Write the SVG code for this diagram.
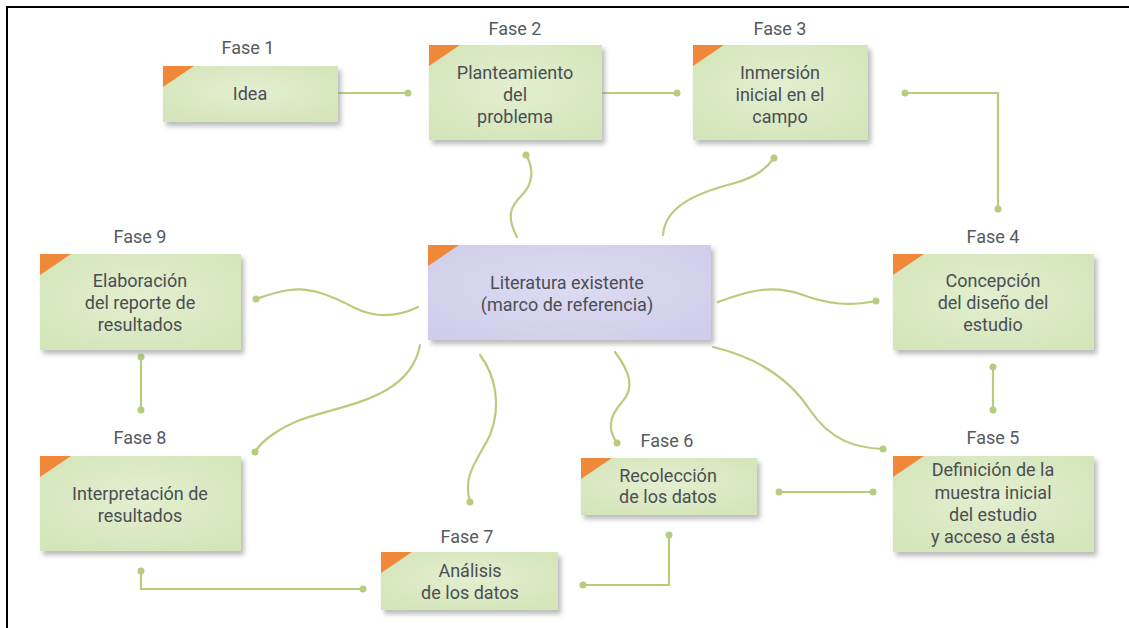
<svg xmlns="http://www.w3.org/2000/svg" width="1129" height="628" viewBox="0 0 1129 628">
<defs>
<radialGradient id="gGreen" cx="50%" cy="45%" r="65%">
<stop offset="0" stop-color="#e3efd0"/>
<stop offset="1" stop-color="#d3e5b9"/>
</radialGradient>
<radialGradient id="gLav" cx="50%" cy="45%" r="65%">
<stop offset="0" stop-color="#dddbf2"/>
<stop offset="1" stop-color="#d0cdea"/>
</radialGradient>
<filter id="sh" x="-10%" y="-10%" width="125%" height="135%">
<feDropShadow dx="3" dy="4" stdDeviation="2.5" flood-color="#7f8080" flood-opacity="0.55"/>
</filter>
</defs>
<style>
.box{fill:url(#gGreen);filter:url(#sh)}
.lav{fill:url(#gLav);filter:url(#sh)}
.tri{fill:#f0883a}
.t{font-family:Roboto,"Liberation Sans",sans-serif;font-size:18px;fill:#4a4e54;text-anchor:middle}
.lbl{font-family:Roboto,"Liberation Sans",sans-serif;font-size:18px;fill:#555a60;text-anchor:middle}
.c{fill:none;stroke:#b7cc7c;stroke-width:2.2;stroke-linecap:round}
.d{fill:#b7cc7c}
</style>
<rect x="0" y="0" width="1129" height="628" fill="#ffffff"/>
<path d="M7,628 V7 H1129" fill="none" stroke="#000" stroke-width="2"/>

<g id="connectors">
<path class="c" d="M338,93 H408"/>
<circle class="d" cx="408" cy="93" r="3.5"/>
<path class="c" d="M602,93 H677"/>
<circle class="d" cx="677" cy="93" r="3.5"/>
<path class="c" d="M905,93 H998 V209"/>
<circle class="d" cx="905" cy="93" r="3.5"/>
<circle class="d" cx="998" cy="209" r="3.5"/>
<path class="c" d="M993,367 V410"/>
<circle class="d" cx="993" cy="367" r="3.5"/>
<circle class="d" cx="993" cy="410" r="3.5"/>
<path class="c" d="M779,492 H873"/>
<circle class="d" cx="779" cy="492" r="3.5"/>
<circle class="d" cx="873" cy="492" r="3.5"/>
<path class="c" d="M669,535 V585 H583"/>
<circle class="d" cx="669" cy="535" r="3.5"/>
<circle class="d" cx="583" cy="585" r="3.5"/>
<path class="c" d="M363,589 H141 V571"/>
<circle class="d" cx="363" cy="589" r="3.5"/>
<circle class="d" cx="141" cy="571" r="3.5"/>
<path class="c" d="M141,357 V410"/>
<circle class="d" cx="141" cy="357" r="3.5"/>
<circle class="d" cx="141" cy="410" r="3.5"/>

<path class="c" d="M517,237 C505,215 512,205 522,195 C532,185 535,170 526,155"/>
<circle class="d" cx="526" cy="155" r="3.5"/>
<path class="c" d="M663,235 C665,205 700,192 735,183 C755,177 765,170 774,158"/>
<circle class="d" cx="774" cy="158" r="3.5"/>
<path class="c" d="M718,302 C745,292 770,284 800,294 C830,305 850,306 876,301"/>
<circle class="d" cx="876" cy="301" r="3.5"/>
<path class="c" d="M713,347 C760,358 790,380 810,410 C830,440 855,448 883,449"/>
<circle class="d" cx="883" cy="449" r="3.5"/>
<path class="c" d="M615,352 C630,372 635,388 622,402 C608,418 608,430 617,443"/>
<circle class="d" cx="617" cy="443" r="3.5"/>
<path class="c" d="M480,355 C495,375 502,405 490,435 C478,460 462,475 470,502"/>
<circle class="d" cx="470" cy="502" r="3.5"/>
<path class="c" d="M420,345 C410,400 340,405 300,420 C280,428 262,440 255,452"/>
<circle class="d" cx="255" cy="452" r="3.5"/>
<path class="c" d="M418,307 C395,318 375,318 355,308 C330,295 310,287 290,290 C275,292 265,296 256,299"/>
<circle class="d" cx="256" cy="299" r="3.5"/>
</g>

<g id="fase1">
<text class="lbl" x="248" y="54">Fase 1</text>
<rect class="box" x="163" y="66" width="175" height="56"/>
<path class="tri" d="M163,66 H194 L163,87 Z"/>
<text class="t" x="250" y="100">Idea</text>
</g>

<g id="fase2">
<text class="lbl" x="515" y="35">Fase 2</text>
<rect class="box" x="429" y="45" width="173" height="95"/>
<path class="tri" d="M429,45 H460 L429,66 Z"/>
<text class="t" x="515" y="79">Planteamiento</text>
<text class="t" x="515" y="101">del</text>
<text class="t" x="515" y="123">problema</text>
</g>

<g id="fase3">
<text class="lbl" x="780" y="35">Fase 3</text>
<rect class="box" x="693" y="45" width="175" height="95"/>
<path class="tri" d="M693,45 H724 L693,66 Z"/>
<text class="t" x="780" y="79">Inmersión</text>
<text class="t" x="780" y="101">inicial en el</text>
<text class="t" x="780" y="123">campo</text>
</g>

<g id="literatura">
<rect class="lav" x="428" y="245" width="283" height="95"/>
<path class="tri" d="M428,245 H459 L428,266 Z"/>
<text class="t" x="567" y="289">Literatura existente</text>
<text class="t" x="567" y="311">(marco de referencia)</text>
</g>

<g id="fase4">
<text class="lbl" x="993" y="243">Fase 4</text>
<rect class="box" x="893" y="254" width="201" height="96"/>
<path class="tri" d="M893,254 H924 L893,275 Z"/>
<text class="t" x="993" y="287">Concepción</text>
<text class="t" x="993" y="309">del diseño del</text>
<text class="t" x="993" y="331">estudio</text>
</g>

<g id="fase5">
<text class="lbl" x="993" y="444">Fase 5</text>
<rect class="box" x="893" y="456" width="201" height="96"/>
<path class="tri" d="M893,456 H924 L893,477 Z"/>
<text class="t" x="993" y="476">Definición de la</text>
<text class="t" x="993" y="499">muestra inicial</text>
<text class="t" x="993" y="521">del estudio</text>
<text class="t" x="993" y="543">y acceso a ésta</text>
</g>

<g id="fase6">
<text class="lbl" x="667" y="447">Fase 6</text>
<rect class="box" x="581" y="458" width="176" height="57"/>
<path class="tri" d="M581,458 H612 L581,479 Z"/>
<text class="t" x="668" y="482">Recolección</text>
<text class="t" x="668" y="503">de los datos</text>
</g>

<g id="fase7">
<text class="lbl" x="467" y="543">Fase 7</text>
<rect class="box" x="381" y="552" width="177" height="58"/>
<path class="tri" d="M381,552 H412 L381,573 Z"/>
<text class="t" x="470" y="577">Análisis</text>
<text class="t" x="470" y="599">de los datos</text>
</g>

<g id="fase8">
<text class="lbl" x="140" y="444">Fase 8</text>
<rect class="box" x="40" y="456" width="201" height="95"/>
<path class="tri" d="M40,456 H71 L40,477 Z"/>
<text class="t" x="140" y="500">Interpretación de</text>
<text class="t" x="140" y="522">resultados</text>
</g>

<g id="fase9">
<text class="lbl" x="140" y="243">Fase 9</text>
<rect class="box" x="40" y="254" width="201" height="96"/>
<path class="tri" d="M40,254 H71 L40,275 Z"/>
<text class="t" x="140" y="287">Elaboración</text>
<text class="t" x="140" y="309">del reporte de</text>
<text class="t" x="140" y="331">resultados</text>
</g>
</svg>
